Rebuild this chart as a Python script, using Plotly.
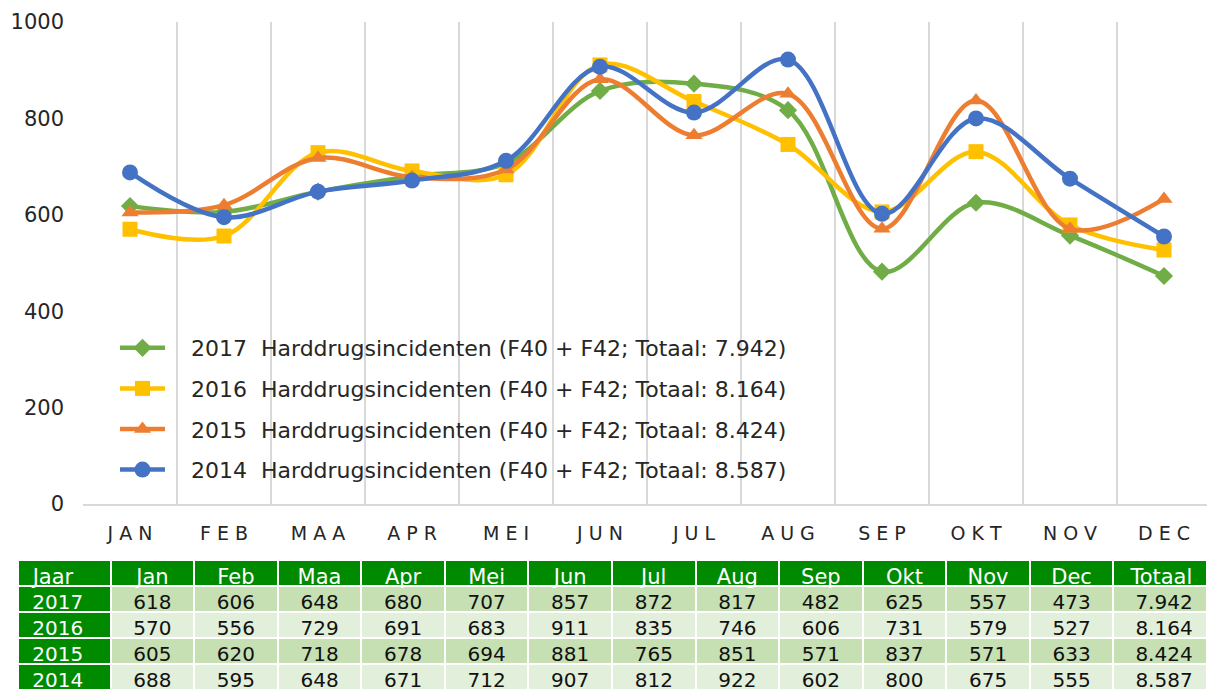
import plotly.graph_objects as go

months = ["JAN", "FEB", "MAA", "APR", "MEI", "JUN", "JUL", "AUG", "SEP", "OKT", "NOV", "DEC"]
months_table = ["Jan", "Feb", "Maa", "Apr", "Mei", "Jun", "Jul", "Aug", "Sep", "Okt", "Nov", "Dec"]
years = ["2017", "2016", "2015", "2014"]
v2017 = [618, 606, 648, 680, 707, 857, 872, 817, 482, 625, 557, 473]
v2016 = [570, 556, 729, 691, 683, 911, 835, 746, 606, 731, 579, 527]
v2015 = [605, 620, 718, 678, 694, 881, 765, 851, 571, 837, 571, 633]
v2014 = [688, 595, 648, 671, 712, 907, 812, 922, 602, 800, 675, 555]
series = [v2017, v2016, v2015, v2014]
colors = ["#70AD47", "#FFC000", "#ED7D31", "#4472C4"]
symbols = ["diamond", "square", "triangle-up", "circle"]
msizes = [14, 15, 15, 16]

W, H = 1207, 691
FONT = "DejaVu Sans"
NB = "\u00a0"


def fmt(n):
    return f"{n:,}".replace(",", ".")


totals = [sum(s) for s in series]
month_ticks = [" ".join(list(m)) for m in months]

fig = go.Figure()
for yr, vals, col, sym, ms, tot in zip(years, series, colors, symbols, msizes, totals):
    fig.add_trace(go.Scatter(
        x=month_ticks, y=vals, mode="lines+markers",
        name=f"{NB*3}{yr}{NB}{NB}Harddrugsincidenten (F40 + F42; Totaal: {fmt(tot)})",
        legendgroup=yr,
        line=dict(color=col, width=4.5, shape="spline", smoothing=1.0),
        marker=dict(symbol=sym, size=ms, color=col, line=dict(width=0)),
        xaxis="x", yaxis="y",
    ))

# table
header = [NB + "Jaar"] + months_table + ["Totaal" + NB]
cols = [[NB + y for y in years]]
for i in range(12):
    cols.append([str(s[i]) for s in series])
cols.append([fmt(t) + NB for t in totals])
light = ["#C6E0B4", "#E2EFDA", "#C6E0B4", "#E2EFDA"]
fills = [["#008A00"] * 4] + [light] * 13
fcolors = [["white"] * 4] + [["#111111"] * 4] * 13
aligns = ["left"] + ["center"] * 12 + ["right"]

fig.add_trace(go.Table(
    domain=dict(x=[18 / W, 1.0], y=[0, 131 / H]),
    columnwidth=[92] + [83] * 12 + [93],
    header=dict(values=header, fill_color="#008A00", height=26,
                line=dict(color="white", width=2), align=aligns,
                font=dict(family=FONT, size=21, color="white")),
    cells=dict(values=cols, fill_color=fills, height=26,
               line=dict(color="white", width=2), align=aligns,
               font=dict(family=FONT, size=20, color=fcolors)),
))

x0 = 83 / W
cat_w = 94
right_extra = (W - 83) / cat_w - 12
fig.update_layout(
    width=W, height=H,
    margin=dict(l=0, r=0, t=0, b=0, autoexpand=False),
    paper_bgcolor="white", plot_bgcolor="white",
    font=dict(family=FONT, size=20, color="#262626"),
    showlegend=True,
    legend=dict(x=115 / W, y=1 - 327 / H, xanchor="left", yanchor="top",
                traceorder="grouped", tracegroupgap=9,
                font=dict(family=FONT, size=22, color="#262626"),
                bgcolor="rgba(0,0,0,0)", itemwidth=45),
    xaxis=dict(domain=[x0, 1.0], type="category", automargin=False,
               range=[-0.5, 11.5 + right_extra],
               tickson="boundaries", showgrid=True, gridcolor="#D9D9D9", gridwidth=2,
               showline=True, linecolor="#D9D9D9", linewidth=2,
               ticks="", ticklabelstandoff=11,
               tickfont=dict(family=FONT, size=19, color="#262626"),
               zeroline=False, fixedrange=True),
    yaxis=dict(domain=[1 - 504 / H, 1 - 22 / H], range=[0, 1000], dtick=200,
               automargin=False,
               showgrid=False, zeroline=False, showline=False,
               ticks="", ticklabelstandoff=18,
               tickfont=dict(family=FONT, size=21, color="#262626"),
               fixedrange=True),
)

fig.write_html("out.html", config={"displayModeBar": False},
               post_script="document.body.style.margin='0';document.body.style.padding='0';")
